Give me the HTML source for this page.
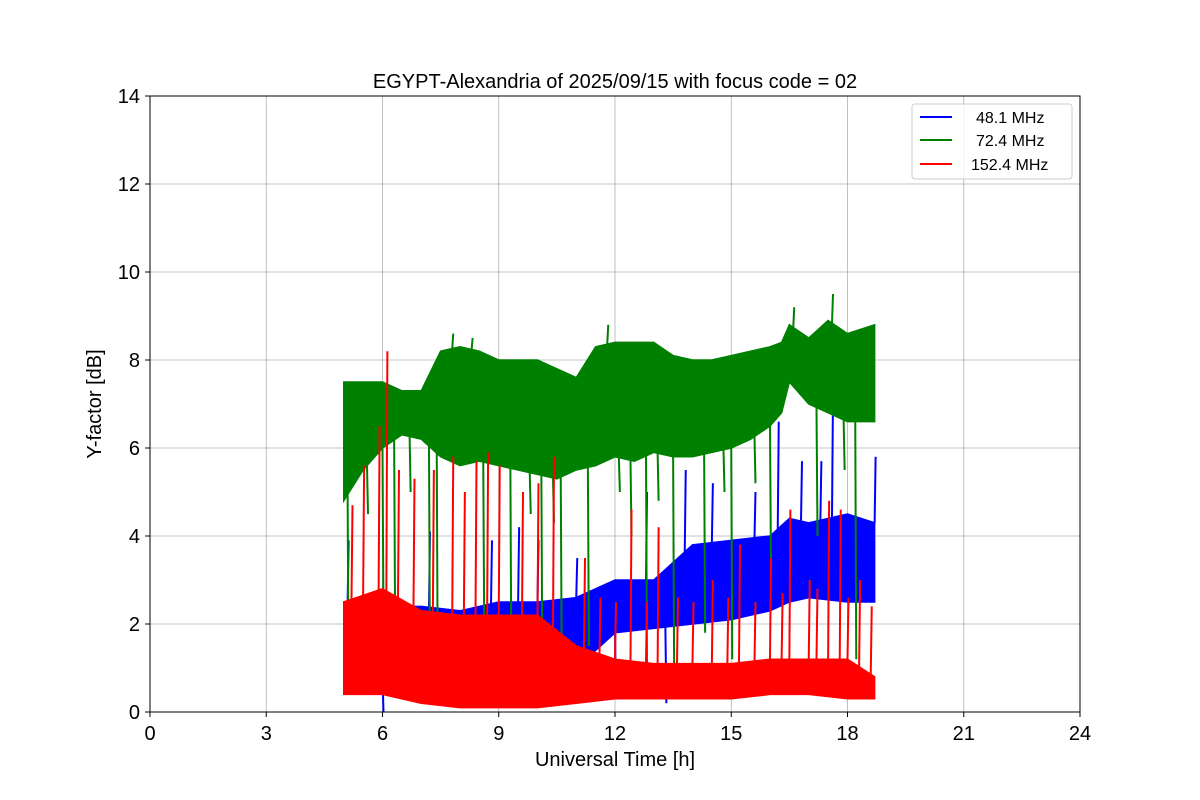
<!DOCTYPE html>
<html><head><meta charset="utf-8"><style>
body{margin:0;background:#fff;}
svg{display:block;font-family:"Liberation Sans","DejaVu Sans",sans-serif;}
</style></head><body>
<svg id="chart" width="1200" height="800" viewBox="0 0 1200 800">
<rect width="1200" height="800" fill="#fff"/>
<g id="grid"></g>
<g id="series"></g>
<rect x="150" y="96" width="930" height="616" fill="none" stroke="#000" stroke-width="1"/>
<g id="ticks"></g>
<text x="615" y="88" text-anchor="middle" font-size="20">EGYPT-Alexandria of 2025/09/15 with focus code = 02</text>
<text x="615" y="766" text-anchor="middle" font-size="20">Universal Time [h]</text>
<text transform="translate(101,404) rotate(-90)" text-anchor="middle" font-size="20">Y-factor [dB]</text>
<g>
<rect x="912" y="104" width="160" height="75" rx="3" fill="#fff" fill-opacity="0.8" stroke="#ccc"/>
<line x1="920" y1="117" x2="952" y2="117" stroke="blue" stroke-width="2"/>
<text x="976" y="123" font-size="16">48.1 MHz</text>
<line x1="920" y1="140" x2="952" y2="140" stroke="green" stroke-width="2"/>
<text x="976" y="146" font-size="16">72.4 MHz</text>
<line x1="920" y1="164" x2="952" y2="164" stroke="red" stroke-width="2"/>
<text x="971" y="170" font-size="16">152.4 MHz</text>
</g>
</svg>
<script>
const xTicks=[0,3,6,9,12,15,18,21,24];
const yTicks=[0,2,4,6,8,10,12,14];
const greenT=[5.0,5.5,6,6.5,7,7.5,8,8.5,9,9.5,10,10.5,11,11.5,12,12.5,13,13.5,14,14.5,15,15.5,16,16.3,16.5,17,17.5,18,18.7];
const greenLo=[4.8,5.5,6.0,6.3,6.2,5.8,5.6,5.7,5.6,5.5,5.4,5.3,5.5,5.6,5.8,5.7,5.9,5.8,5.8,5.9,6.0,6.2,6.5,6.8,7.5,7.0,6.8,6.6,6.6];
const greenHi=[7.5,7.5,7.5,7.3,7.3,8.2,8.3,8.2,8.0,8.0,8.0,7.8,7.6,8.3,8.4,8.4,8.4,8.1,8.0,8.0,8.1,8.2,8.3,8.4,8.8,8.5,8.9,8.6,8.8];
const greenSpikeT=[5.1,6.0,6.3,7.2,7.4,8.6,9.3,10.1,10.6,11.3,12.4,12.8,13.5,14.3,15.0,16.0,17.2,18.2,17.6,11.8,16.6,7.8,8.3,9.8,10.4,12.1,13.1,14.8,15.6,17.9,5.6,6.7];
const greenSpikeV=[0.5,2.0,2.0,1.1,0.8,1.8,1.0,0.8,1.0,1.5,4.0,1.0,1.0,1.8,1.2,3.2,4.0,1.2,9.5,8.8,9.2,8.6,8.5,4.5,4.3,5.0,4.8,5.0,5.2,5.5,4.5,5.0];
const blueT=[5.0,6,7,8,9,10,11,12,13,14,15,16,16.5,17,18,18.7];
const blueLo=[0.8,0.8,0.9,0.8,0.8,0.9,1.0,1.8,1.9,2.0,2.1,2.3,2.5,2.6,2.5,2.5];
const blueHi=[2.5,2.4,2.4,2.3,2.5,2.5,2.6,3.0,3.0,3.8,3.9,4.0,4.4,4.3,4.5,4.3];
const blueSpikeT=[5.1,6.0,7.2,8.8,9.5,10.0,11.0,12.8,13.8,14.5,15.6,16.2,16.8,17.3,17.6,18.7,12.0,13.3];
const blueSpikeV=[3.9,0,4.1,3.9,4.2,3.9,3.5,5.0,5.5,5.2,5.0,6.6,5.7,5.7,7.2,5.8,0.3,0.2];
const redT=[5.0,6,7,8,9,10,11,12,13,14,15,16,17,18,18.7];
const redLo=[0.4,0.4,0.2,0.1,0.1,0.1,0.2,0.3,0.3,0.3,0.3,0.4,0.4,0.3,0.3];
const redHi=[2.5,2.8,2.3,2.2,2.2,2.2,1.5,1.2,1.1,1.1,1.1,1.2,1.2,1.2,0.8];
const redSpikeT=[5.2,5.5,5.9,6.1,6.4,6.8,7.3,7.8,8.1,8.4,8.7,9.0,9.6,10.0,10.4,11.2,12.4,13.1,14.5,15.2,16.0,17.0,17.5,18.3,17.8,16.5,11.6,12.0,12.8,13.6,14.0,14.9,15.6,16.3,17.2,18.0,18.6];
const redSpikeV=[4.7,5.6,6.5,8.2,5.5,5.3,5.5,5.8,5.0,5.7,5.9,5.6,5.0,5.2,5.8,3.5,4.6,4.2,3.0,3.8,3.5,3.0,4.8,3.0,4.6,4.6,2.6,2.5,2.5,2.6,2.5,2.6,2.5,2.7,2.8,2.6,2.4];

const NS='http://www.w3.org/2000/svg';
const X=h=>150+h*930/24, Y=v=>712-v*616/14;
function mk(tag,attrs,parent){const e=document.createElementNS(NS,tag);for(const k in attrs)e.setAttribute(k,attrs[k]);parent.appendChild(e);return e;}
const grid=document.getElementById('grid'),ticks=document.getElementById('ticks'),ser=document.getElementById('series');
xTicks.forEach(t=>{
 const g=mk('line',{x1:X(t),x2:X(t),y1:96,y2:712,stroke:'#b0b0b0','stroke-width':0.8},grid);
 
 
 const tk=mk('line',{x1:X(t),x2:X(t),y1:712,y2:717,stroke:'#000'},ticks);
 
 
 const lb=mk('text',{x:X(t),y:740,'text-anchor':'middle','font-size':20},ticks);lb.textContent=t;
 
 
});
yTicks.forEach(t=>{
 const g=mk('line',{x1:150,x2:1080,y1:Y(t),y2:Y(t),stroke:'#b0b0b0','stroke-width':0.8},grid);
 
 
 const tk=mk('line',{x1:145,x2:150,y1:Y(t),y2:Y(t),stroke:'#000'},ticks);
 
 
 const lb=mk('text',{x:140,y:Y(t)+7,'text-anchor':'end','font-size':20},ticks);lb.textContent=t;
 
 
});
function band(T,lo,hi,sT,sV,color,name){
 const g=mk('g',{},ser);
 
 
 let d='M'+T.map((t,i)=>X(t)+','+Y(hi[i])).join(' L');
 d+=' L'+T.slice().reverse().map((t,j)=>X(t)+','+Y(lo[T.length-1-j])).join(' L')+'Z';
 const p=mk('path',{d:d,fill:color,stroke:color,'stroke-width':1.5},g);
 
 
 const interp=(arr,t)=>{for(let i=0;i<T.length-1;i++){if(t>=T[i]&&t<=T[i+1]){const f=(t-T[i])/(T[i+1]-T[i]);return arr[i]+f*(arr[i+1]-arr[i]);}}return t<T[0]?arr[0]:arr[arr.length-1];};
 sT.forEach((t,i)=>{
  const v=sV[i];const base=v>interp(hi,t)?interp(hi,t):interp(lo,t);
  const l=mk('line',{x1:X(t),x2:X(t)+1,y1:Y(base),y2:Y(v),stroke:color,'stroke-width':2},g);
  
  
 });
}
band(blueT,blueLo,blueHi,blueSpikeT,blueSpikeV,'blue','series-48mhz');
band(greenT,greenLo,greenHi,greenSpikeT,greenSpikeV,'green','series-72mhz');
band(redT,redLo,redHi,redSpikeT,redSpikeV,'red','series-152mhz');
</script>
</body></html>
